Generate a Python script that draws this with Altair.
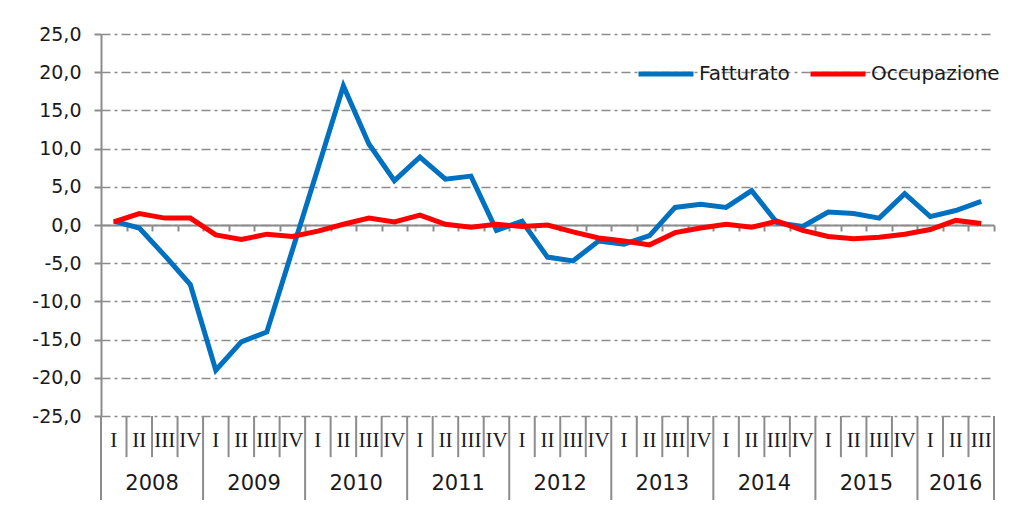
import altair as alt
import pandas as pd

# ---- data -----------------------------------------------------------------
years = ["2008"] * 4 + ["2009"] * 4 + ["2010"] * 4 + ["2011"] * 4 + ["2012"] * 4 + \
        ["2013"] * 4 + ["2014"] * 4 + ["2015"] * 4 + ["2016"] * 3
quarters = ["I", "II", "III", "IV"] * 8 + ["I", "II", "III"]

fatturato = [0.5, -0.4, -4.0, -7.8,
             -19.0, -15.3, -14.0, -3.3,
             7.4, 18.2, 10.6, 5.8,
             8.9, 6.0, 6.4, -0.7,
             0.5, -4.2, -4.7, -2.1,
             -2.5, -1.4, 2.3, 2.7,
             2.3, 4.5, 0.3, -0.2,
             1.7, 1.5, 0.9, 4.1,
             1.1, 1.9, 3.1]
occupazione = [0.4, 1.5, 0.9, 0.9,
               -1.3, -1.9, -1.2, -1.5,
               -0.8, 0.1, 0.9, 0.4,
               1.3, 0.1, -0.3, 0.1,
               -0.2, 0.0, -0.9, -1.7,
               -2.1, -2.6, -1.0, -0.4,
               0.1, -0.3, 0.5, -0.7,
               -1.5, -1.8, -1.6, -1.2,
               -0.6, 0.6, 0.2]
series = ["Fatturato", "Occupazione"]
colors = ["#0070C0", "#FF0000"]
y_ticks = [-25, -20, -15, -10, -5, 0, 5, 10, 15, 20, 25]

# ---- tables built from the arrays ---------------------------------------
n = len(quarters)
idx = list(range(n))
df = pd.DataFrame({
    "idx": idx * 2,
    "serie": [series[0]] * n + [series[1]] * n,
    "valore": fatturato + occupazione,
})
dfq = pd.DataFrame({"idx": idx, "quarter": quarters, "year": years})
is_year = [q == "I" for q in quarters] + [True]
sep = pd.DataFrame({
    "pos": [i - 0.5 for i in range(n + 1)],
    "top": [0.0] * (n + 1),
    "end": [2.0 if f else 0.98 for f in is_year],
})
bounds = [i + 0.5 for i in range(n)]

# ---- style ----------------------------------------------------------------
GRAY = "#8c8c8c"
SANS = "DejaVu Sans"
TXT = "#1a1a1a"
W, H, HB = 893, 382, 84

xscale = alt.Scale(domain=[-0.5, n - 0.5], nice=False, zero=False)

top = alt.Chart(df).mark_line(strokeWidth=5).encode(
    x=alt.X("idx:Q", scale=xscale,
            axis=alt.Axis(values=bounds, orient="bottom", offset=-H / 2,
                          labels=False, title=None, grid=False,
                          domainColor=GRAY, domainWidth=2,
                          tickColor=GRAY, tickWidth=2, tickSize=6)),
    y=alt.Y("valore:Q", scale=alt.Scale(domain=[-25, 25], nice=False),
            axis=alt.Axis(values=y_ticks, title=None,
                          labelExpr="replace(replace(format(datum.value, '.1f'), '.', ','), '\u2212', '-')",
                          labelFont=SANS, labelFontSize=19, labelColor=TXT,
                          labelPadding=13, tickSize=7, tickColor=GRAY, tickWidth=2,
                          domainColor=GRAY, domainWidth=2,
                          grid=True, gridColor=GRAY, gridWidth=1.5,
                          gridDash=[9, 4, 3, 4],
                          minExtent=75, maxExtent=75)),
    color=alt.Color("serie:N", scale=alt.Scale(domain=series, range=colors),
                    legend=alt.Legend(title=None, orient="none", legendX=535, legendY=10,
                                      direction="horizontal", symbolType="stroke",
                                      symbolSize=3025, symbolStrokeWidth=5,
                                      labelFont=SANS, labelFontSize=20, labelColor=TXT,
                                      labelOffset=3, columnPadding=10)),
).properties(width=W, height=H)

yb = alt.Scale(domain=[0, 2], reverse=True, nice=False, zero=False)

rules = alt.Chart(sep).mark_rule(color=GRAY, strokeWidth=2).encode(
    x=alt.X("pos:Q", scale=xscale, axis=None),
    y=alt.Y("top:Q", scale=yb, axis=None),
    y2="end:Q",
)
qtext = alt.Chart(dfq).mark_text(font="Liberation Serif", fontSize=21, color=TXT,
                                 baseline="middle").encode(
    x=alt.X("idx:Q", scale=xscale, axis=None),
    y=alt.datum(0.6),
    text="quarter:N",
)
ytext = alt.Chart(dfq).mark_text(font=SANS, fontSize=21, color=TXT,
                                 baseline="middle").encode(
    x=alt.X("mean(idx):Q", scale=xscale, axis=None),
    y=alt.datum(1.61),
    text="year:N",
)
bottom = alt.layer(rules, qtext, ytext).properties(width=W, height=HB)

chart = alt.vconcat(top, bottom, spacing=0, bounds="flush").properties(
    padding={"left": 17, "top": 16, "right": 0, "bottom": 0}
).configure_view(stroke="transparent")

chart.save("out.html", embed_options={"renderer": "svg", "actions": False})
